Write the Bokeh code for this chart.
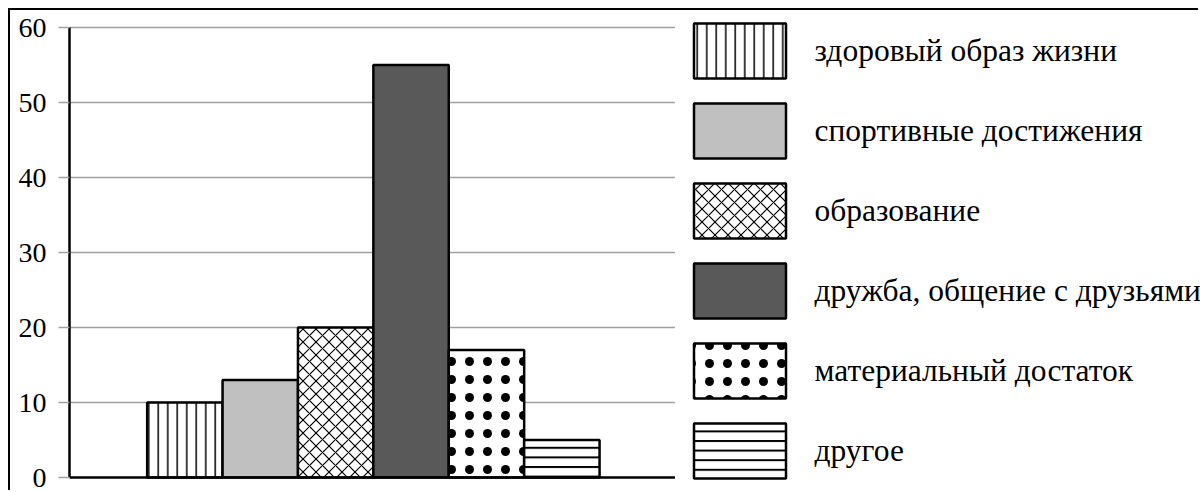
from bokeh.plotting import figure
from bokeh.models import Legend, LegendItem, FixedTicker, Range1d
from bokeh.embed import file_html
from bokeh.resources import INLINE

categories = ["здоровый образ жизни", "спортивные достижения", "образование",
              "дружба, общение с друзьями", "материальный достаток", "другое"]
values = [10, 13, 20, 55, 17, 5]
y_ticks = [0, 10, 20, 30, 40, 50, 60]

fills = ["white", "#c0c0c0", "white", "#595959", "white", "white"]
hatches = ["|", " ", "x", " ", "dot", "-"]
hatch_scales = [9.5, 12, 13, 12, 18, 9.6]
hatch_weights = [1.5, 1, 1.2, 1, 1, 2]

SERIF = "Liberation Serif"

W, H = 1190, 482
LEFT, TOP, BOTTOM = 59, 2, 0
SLOT_PX = 75.4          # pixels per category slot
UNIT_PX = 7.5           # pixels per value unit
X0 = -0.03
Y0 = -2.0
N_SLOTS = 8
frame_w = W - LEFT
frame_h = H - TOP - BOTTOM

p = figure(width=W, height=H, output_backend="svg", toolbar_location=None,
           x_range=Range1d(X0, X0 + frame_w / SLOT_PX),
           y_range=Range1d(Y0, Y0 + frame_h / UNIT_PX),
           min_border_left=LEFT, min_border_right=0, min_border_top=TOP, min_border_bottom=BOTTOM)
p.styles = {"margin-left": "8px", "margin-top": "8px",
            "border-left": "2px solid black", "border-top": "2px solid black"}
p.outline_line_color = None
p.background_fill_color = "white"
p.border_fill_color = "white"

# horizontal grid lines limited to the chart area
p.segment(x0=X0, y0=y_ticks, x1=N_SLOTS, y1=y_ticks, line_color="#a0a0a0",
          line_width=1.5, level="underlay")

items = []
for i, (cat, v) in enumerate(zip(categories, values)):
    r = p.vbar(x=[i + 1.5], top=[v], bottom=0, width=1,
               fill_color=fills[i], line_color="black", line_width=2.5,
               hatch_pattern=hatches[i], hatch_color="black",
               hatch_scale=hatch_scales[i], hatch_weight=hatch_weights[i])
    items.append(LegendItem(label=cat, renderers=[r]))

# baseline (x axis line) at value 0
p.segment(x0=X0, y0=y_ticks[0], x1=N_SLOTS, y1=y_ticks[0], line_color="black", line_width=2.5)

# legend swatches are drawn inset by 10% of the glyph box
legend = Legend(items=items, location=(612.5, 7), orientation="vertical",
                glyph_width=115, glyph_height=69, spacing=11, padding=0, margin=0,
                border_line_color=None, background_fill_alpha=0,
                label_standoff=18, label_text_font=SERIF, label_text_font_size="31.5px",
                label_text_color="black", label_text_baseline="middle")
p.add_layout(legend)

# y axis
p.yaxis.ticker = FixedTicker(ticks=y_ticks)
p.yaxis.bounds = (y_ticks[0], y_ticks[-1])
p.yaxis.major_tick_in = 0
p.yaxis.major_tick_out = 11
p.yaxis.major_tick_line_color = "#a0a0a0"
p.yaxis.major_tick_line_width = 1.5
p.yaxis.minor_tick_line_color = None
p.yaxis.axis_line_color = "black"
p.yaxis.axis_line_width = 2.5
p.yaxis.major_label_standoff = 12
p.yaxis.major_label_text_font = SERIF
p.yaxis.major_label_text_font_size = "28px"
p.yaxis.major_label_text_color = "black"

p.xaxis.visible = False
p.xgrid.visible = False
p.ygrid.visible = False

open("out.html", "w").write(file_html(p, INLINE))
